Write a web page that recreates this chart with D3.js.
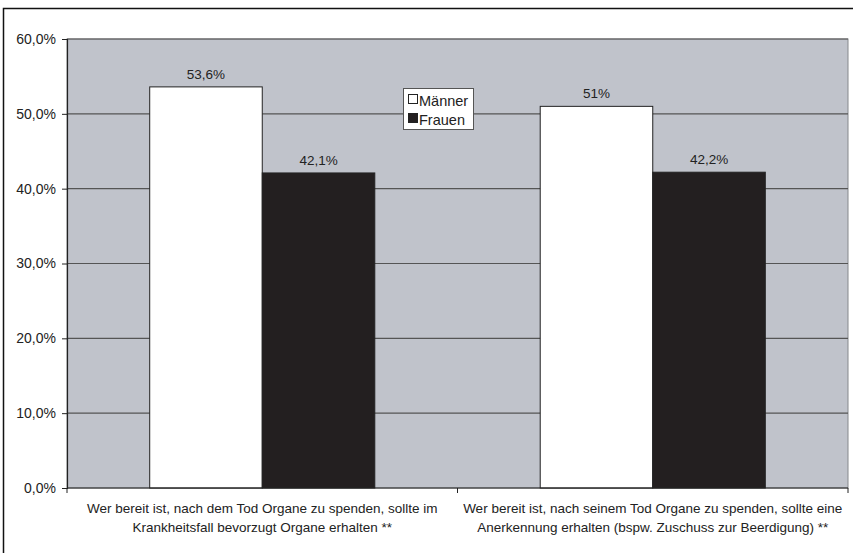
<!DOCTYPE html>
<html><head><meta charset="utf-8">
<script src="https://cdn.jsdelivr.net/npm/d3@7"></script>
<style>body{margin:0;background:#fff;}svg{display:block;font-family:"Liberation Sans",Arial,sans-serif;}</style>
</head><body><svg id="c" width="853" height="553"></svg>
<script>
const categories = [
  ["Wer bereit ist, nach dem Tod Organe zu spenden, sollte im", "Krankheitsfall bevorzugt Organe erhalten **"],
  ["Wer bereit ist, nach seinem Tod Organe zu spenden, sollte eine", "Anerkennung erhalten (bspw. Zuschuss zur Beerdigung) **"]
];
const seriesNames = ["Männer", "Frauen"];
const maenner = [53.6, 51];
const frauen = [42.1, 42.2];
const valueLabels = [["53,6%", "51%"], ["42,1%", "42,2%"]];
const yTicks = [0, 10, 20, 30, 40, 50, 60];
const colors = ["#ffffff", "#231f20"];

const svg = d3.select("#c");
const L = 67, R = 848, T = 39, B = 488;
// outer frame
svg.append("rect").attr("x", 3.5).attr("y", 8.5).attr("width", 900).attr("height", 600)
  .attr("fill", "none").attr("stroke", "#111").attr("stroke-width", 1.5);
svg.append("rect").attr("x", L).attr("y", T).attr("width", R - L).attr("height", B - T)
  .attr("fill", "#c0c3cb").attr("stroke", "#86888c").attr("stroke-width", 1);

const y = d3.scaleLinear().domain([0, 60]).range([B, T]);
const x0 = d3.scaleBand().domain(d3.range(categories.length)).range([L, R]).paddingInner(0).paddingOuter(0);
const x1 = d3.scaleBand().domain([0, 1]).range([0, x0.bandwidth()]).paddingOuter(0.735).paddingInner(0);

// gridlines
svg.append("g").selectAll("line").data(yTicks.filter(d => d > 0)).join("line")
  .attr("x1", L).attr("x2", R).attr("y1", d => y(d)).attr("y2", d => y(d))
  .attr("stroke", "#555").attr("stroke-width", 1.2);

const data = [maenner, frauen];
const g = svg.append("g");
data.forEach((vals, s) => {
  g.selectAll(null).data(vals).join("rect")
    .attr("x", (d, i) => x0(i) + x1(s))
    .attr("y", d => y(d))
    .attr("width", x1.bandwidth())
    .attr("height", d => B - y(d))
    .attr("fill", colors[s]).attr("stroke", "#222").attr("stroke-width", 1);
  g.selectAll(null).data(vals).join("text")
    .attr("x", (d, i) => x0(i) + x1(s) + x1.bandwidth() / 2)
    .attr("y", d => y(d) - 8)
    .attr("text-anchor", "middle").attr("font-size", 13.5).attr("fill", "#222")
    .text((d, i) => valueLabels[s][i]);
});

// y axis
const yAxis = d3.axisLeft(y).tickValues(yTicks).tickSize(5).tickFormat(d => d.toFixed(1).replace(".", ",") + "%");
const ya = svg.append("g").attr("transform", `translate(${L},0)`).call(yAxis);
ya.select(".domain").attr("stroke", "#222").attr("stroke-width", 1.2);
ya.selectAll(".tick line").attr("stroke", "#222");
ya.selectAll(".tick text").attr("font-size", 14).attr("fill", "#222").attr("x", -11).attr("font-family", "Liberation Sans, Arial, sans-serif");

// x axis
const xAxisG = svg.append("g").attr("transform", `translate(0,${B})`);
xAxisG.append("line").attr("x1", L).attr("x2", R).attr("stroke", "#222").attr("stroke-width", 1.2);
const bounds = d3.range(categories.length + 1).map(i => L + i * x0.step());
xAxisG.selectAll("line.t").data(bounds).join("line").attr("class", "t")
  .attr("x1", d => d).attr("x2", d => d).attr("y1", 0).attr("y2", 5).attr("stroke", "#222");
categories.forEach((lines, i) => {
  const t = xAxisG.append("text").attr("text-anchor", "middle").attr("font-size", 13.5).attr("fill", "#222");
  lines.forEach((ln, k) => t.append("tspan").attr("x", x0(i) + x0.bandwidth() / 2).attr("y", 25 + k * 18.5).text(ln));
});

// legend
const lg = svg.append("g").attr("transform", "translate(403,88)");
lg.append("rect").attr("x", 0.5).attr("y", 0.5).attr("width", 70).attr("height", 41).attr("fill", "#fff").attr("stroke", "#555");
seriesNames.forEach((n, i) => {
  lg.append("rect").attr("x", 5.5).attr("y", 6.5 + i * 19).attr("width", 9).attr("height", 9)
    .attr("fill", colors[i]).attr("stroke", "#222");
  lg.append("text").attr("x", 16).attr("y", 17.5 + i * 19).attr("font-size", 14.5).attr("fill", "#222").text(n);
});
</script></body></html>
